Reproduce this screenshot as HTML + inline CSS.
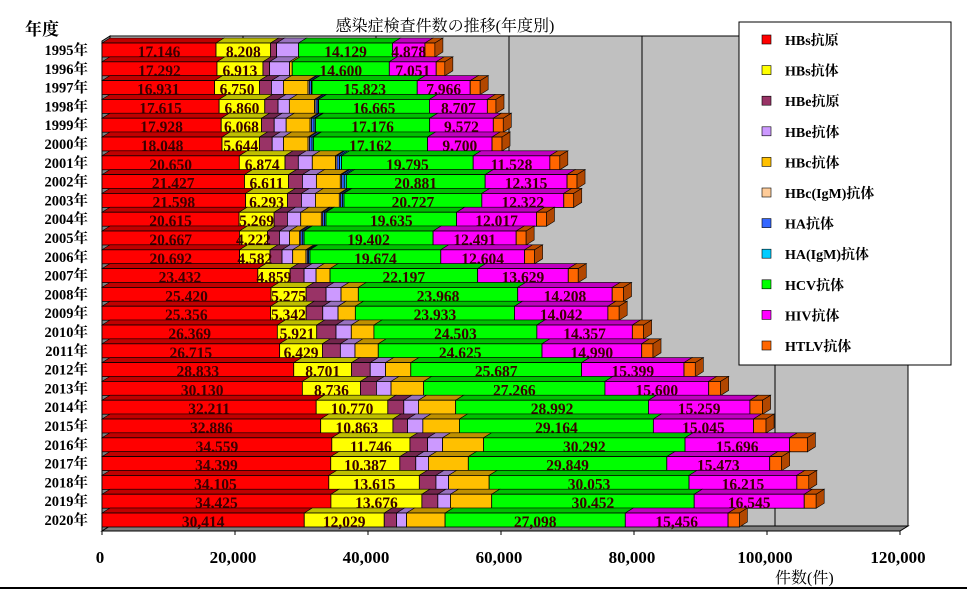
<!DOCTYPE html>
<html><head><meta charset="utf-8"><style>
body{margin:0;background:#fff;}
#wrap{position:relative;width:967px;height:590px;overflow:hidden;background:#fff;}
svg text{font-family:"Liberation Serif","Noto Serif CJK SC","Noto Sans CJK JP",serif;}
</style></head><body>
<div id="wrap">
<svg id="chart" width="967" height="590"></svg>
</div>
<script>
const years=["1995年","1996年","1997年","1998年","1999年","2000年","2001年","2002年","2003年","2004年","2005年","2006年","2007年","2008年","2009年","2010年","2011年","2012年","2013年","2014年","2015年","2016年","2017年","2018年","2019年","2020年"];
const seriesNames=["HBs抗原","HBs抗体","HBe抗原","HBe抗体","HBc抗体","HBc(IgM)抗体","HA抗体","HA(IgM)抗体","HCV抗体","HIV抗体","HTLV抗体"];
const colors=["#ff0000","#ffff00","#993366","#cc99ff","#ffc000","#ffcc99","#3366ff","#00ccff","#00ff00","#ff00ff","#ff6600"];
const hbsAg=[17146,17292,16931,17615,17928,18048,20650,21427,21598,20615,20667,20692,23432,25420,25356,26369,26715,28833,30130,32211,32886,34559,34399,34105,34425,30414];
const hbsAb=[8208,6913,6750,6860,6068,5644,6874,6611,6293,5269,4222,4582,4859,5275,5342,5921,6429,8701,8736,10770,10863,11746,10387,13615,13676,12029];
const hbeAg=[900,1000,1800,2000,1900,1900,2000,2100,2100,2000,1800,1800,2100,3000,2500,2900,2700,2800,2400,2400,2200,2660,2400,2500,2400,1850];
const hbeAb=[3300,3000,1800,1700,1800,1700,2100,2100,2100,2000,1500,1600,1800,2250,2300,2300,2200,2300,2200,2200,2300,2250,1900,1900,1900,1500];
const hbc=[0,400,3700,3800,3600,3700,3500,3600,3600,3100,1500,2000,2100,2600,2600,3400,3500,3800,4900,5600,5500,6170,6000,6100,6200,5800];
const hbcIgm=[0,0,200,200,200,200,200,200,200,200,200,200,0,0,0,0,0,0,0,0,0,0,0,0,0,0];
const ha=[0,0,300,300,400,400,400,400,300,300,300,200,0,0,0,0,0,0,0,0,0,0,0,0,0,0];
const haIgm=[0,0,100,100,200,200,300,300,200,200,200,200,0,0,0,0,0,0,0,0,0,0,0,0,0,0];
const hcv=[14129,14600,15823,16665,17176,17162,19795,20881,20727,19635,19402,19674,22197,23968,23933,24503,24625,25687,27266,28992,29164,30292,29849,30053,30452,27098];
const hiv=[4878,7051,7966,8707,9572,9700,11528,12315,12322,12017,12491,12604,13629,14208,14042,14357,14990,15399,15600,15259,15045,15696,15473,16215,16545,15456];
const htlv=[1500,1300,1500,1300,1500,1500,1500,1500,1500,1500,1500,1500,1500,1700,1700,1700,1700,1700,1800,1900,1900,2700,1800,1800,1800,1700];
const xTicks=[0,20000,40000,60000,80000,100000,120000];
const xTickLabels=["0","20,000","40,000","60,000","80,000","100,000","120,000"];
const series=[hbsAg,hbsAb,hbeAg,hbeAb,hbc,hbcIgm,ha,haIgm,hcv,hiv,htlv];
const labeled=[0,1,8,9];

const NS="http://www.w3.org/2000/svg";
const svg=document.getElementById('chart');
function mk(t,a,p){const e=document.createElementNS(NS,t);for(const k in a)e.setAttribute(k,a[k]);(p||svg).appendChild(e);return e;}
const X0=102,K=0.00665,DX=8,DY=-5;
function xs(v){return X0+v*K;}
function yRow(i){return 43+i*18.8;}
const BH=14;
function darken(c,f){const n=parseInt(c.slice(1),16);let r=(n>>16)&255,g=(n>>8)&255,b=n&255;return `rgb(${r*f|0},${g*f|0},${b*f|0})`;}
const YB=yRow(25)+BH+4;
let e;
e=mk('polygon',{points:`${X0+DX},36 ${xs(120000)+DX},36 ${xs(120000)+DX},${YB+DY} ${X0+DX},${YB+DY}`,fill:'#c0c0c0',stroke:'#000','stroke-width':1});

e=mk('polygon',{points:`${X0},41 ${X0+DX},36 ${X0+DX},${YB+DY} ${X0},${YB}`,fill:'#808080',stroke:'#000','stroke-width':1});

e=mk('polygon',{points:`${X0},${YB} ${X0+DX},${YB+DY} ${xs(120000)+DX},${YB+DY} ${xs(120000)},${YB}`,fill:'#808080',stroke:'#000','stroke-width':1});

xTicks.forEach((t,i)=>{
  if(i>0){e=mk('line',{x1:xs(t)+DX,y1:36,x2:xs(t)+DX,y2:YB+DY,stroke:'#000','stroke-width':1});
  }
  e=mk('line',{x1:xs(t),y1:YB,x2:xs(t),y2:YB+4,stroke:'#000'});
  
  e=mk('text',{x:xs(t)-2,y:563,'text-anchor':'middle','font-size':17,'font-weight':'bold'});
  e.textContent=xTickLabels[i];
  
});

years.forEach((yr,i)=>{
  const y=yRow(i);let cum=0;
  const g=mk('g',{});
  
  series.forEach((s,k)=>{
    const v=s[i];if(v<=0)return;
    const x1=xs(cum),x2=xs(cum+v);cum+=v;
    e=mk('polygon',{points:`${x1},${y} ${x1+DX},${y+DY} ${x2+DX},${y+DY} ${x2},${y}`,fill:darken(colors[k],0.75),stroke:'#000','stroke-width':0.6},g);
    
    e=mk('rect',{x:x1,y:y,width:x2-x1,height:BH,fill:colors[k],stroke:'#000','stroke-width':0.8},g);
    
  });
  const xe=xs(cum);
  e=mk('polygon',{points:`${xe},${y} ${xe+DX},${y+DY} ${xe+DX},${y+DY+BH} ${xe},${y+BH}`,fill:darken(colors[10],0.7),stroke:'#000','stroke-width':0.6},g);
  
  cum=0;
  series.forEach((s,k)=>{
    const v=s[i];const mid=xs(cum+v/2);cum+=v;
    if(labeled.indexOf(k)<0)return;
    e=mk('text',{x:mid,y:y+BH,'text-anchor':'middle','font-size':15.5,'font-weight':'bold',fill:'#3a0000'},g);
    e.textContent=v.toLocaleString('en-US');
    
  });
  e=mk('text',{x:88,y:y+12,'text-anchor':'end','font-size':14.5,'font-weight':'bold'});
  e.textContent=yr;
  
});

e=mk('rect',{x:739,y:22,width:212,height:343,fill:'#fff',stroke:'#000','stroke-width':1});

seriesNames.forEach((n,k)=>{
  const y=40+k*30.6;
  e=mk('rect',{x:762,y:y-5,width:9,height:9,fill:colors[k],stroke:'#000','stroke-width':0.6});
  
  e=mk('text',{x:785,y:y+5,'font-size':14,'font-weight':'bold'});
  e.textContent=n;
  
});
</script>
<svg width="967" height="590" style="position:absolute;left:0;top:0;pointer-events:none">
<text x="25" y="35" font-size="17" font-weight="bold" font-family="Liberation Serif, Noto Sans CJK JP, serif">年度</text>
<text x="445" y="31" text-anchor="middle" font-size="16" font-family="Liberation Serif, Noto Sans CJK JP, serif">感染症検査件数の推移(年度別)</text>
<text x="775" y="583" font-size="16" font-family="Liberation Serif, Noto Sans CJK JP, serif">件数(件)</text>
<line x1="0" y1="588" x2="967" y2="588" stroke="#000" stroke-width="2"/>
</svg>
</body></html>
